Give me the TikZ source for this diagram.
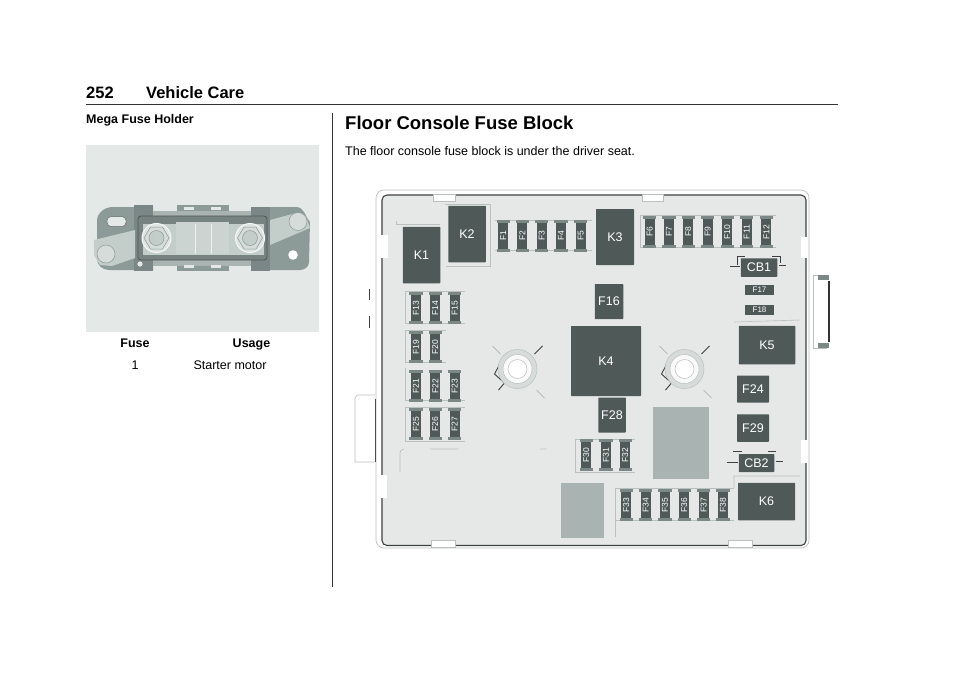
\documentclass[tikz,border=0pt]{standalone}
\usepackage{fontspec}
\setmainfont{Liberation Sans}
\definecolor{panelgray}{HTML}{E4E8E7}
\definecolor{blockgray}{HTML}{E5E8E7}
\definecolor{darkbox}{HTML}{4E5958}
\definecolor{capgray}{HTML}{7C8886}
\definecolor{platesgray}{HTML}{8C9A98}
\definecolor{lightlug}{HTML}{C3CDCA}
\definecolor{padgray}{HTML}{A9B3B1}
\definecolor{edgegray}{HTML}{B9C0BE}
\begin{document}
\begin{tikzpicture}[x=1pt,y=-1pt]
  \tikzstyle{head}=[inner sep=0pt,anchor=base west,font=\bfseries\fontsize{16.5}{18}\selectfont]
  \tikzstyle{sub}=[inner sep=0pt,anchor=base west,font=\bfseries\fontsize{12.5}{14}\selectfont]
  \tikzstyle{body}=[inner sep=0pt,anchor=base,font=\fontsize{12.5}{14}\selectfont]
  \tikzstyle{relay}=[rectangle,fill=darkbox,text=white,inner sep=0pt,rounded corners=0.6pt,font=\fontsize{12.5}{14}\selectfont]
  \tikzstyle{fuse}=[rectangle,fill=darkbox,text=white,inner sep=0pt,minimum width=10pt,minimum height=26pt,font=\fontsize{8.5}{9}\selectfont]
  \tikzstyle{flat}=[rectangle,fill=darkbox,text=white,inner sep=0pt,minimum width=29pt,minimum height=10pt,font=\fontsize{8.5}{9}\selectfont]
  \tikzstyle{pad}=[rectangle,fill=padgray,inner sep=0pt]
  \tikzstyle{trace}=[draw=edgegray,line width=0.6pt]
  \tikzstyle{clip tab}=[draw=edgegray,fill=white,line width=0.8pt]
  \useasboundingbox (0,0) rectangle (960,678);
  % page text
  \node[head] (pagenum) at (86,98.5) {252};
  \node[head] (pagetitle) at (146,98.5) {Vehicle Care};
  \coordinate (ruleleft) at (86,104);
  \coordinate (ruleright) at (838,104);
  \draw[line width=0.9pt,black!80] (ruleleft) -- (ruleright);
  \coordinate (coltop) at (332.5,113);
  \coordinate (colbot) at (332.5,587);
  \draw[line width=0.9pt,black!80] (coltop) -- (colbot);
  \node[sub] (megatitle) at (86,123) {Mega Fuse Holder};
  \node[inner sep=0pt,anchor=base west,font=\bfseries\fontsize{18.5}{20}\selectfont] (blocktitle) at (345,129) {Floor Console Fuse Block};
  \node[inner sep=0pt,anchor=base west,font=\fontsize{12.5}{14}\selectfont] (blocktext) at (345,155) {The floor console fuse block is under the driver seat.};
  \node[sub,anchor=base] (fusehead) at (135,347) {Fuse};
  \node[sub,anchor=base] (usagehead) at (251.5,347) {Usage};
  \node[body] (fuseone) at (135,369) {1};
  \node[body] (usageone) at (230,369) {Starter motor};

  % mega fuse holder
  \fill[panelgray] (86,145) rectangle (318.6,332);
  \fill[platesgray] (153,207) -- (113,207) to[out=180,in=90] (97,221) -- (97,259) to[out=270,in=180] (109,270) -- (153,270) -- cycle;
  \fill[platesgray] (251,207) -- (296,207) to[out=0,in=130] (310,222) -- (309,262) to[out=270,in=0] (300,270) -- (251,270) -- cycle;
  \fill[platesgray!88!black] (134,205) rectangle (153,271);
  \fill[platesgray!88!black] (251,207) rectangle (270,271);
  \fill[platesgray] (177,205) rectangle (229,271);
  \fill[platesgray!75!white] (153,211) rectangle (251,266);
  \fill[panelgray] (184,207) rectangle (194,210);
  \fill[panelgray] (211,207) rectangle (221,210);
  \fill[panelgray] (184,265) rectangle (194,268);
  \fill[panelgray] (211,265) rectangle (221,268);
  \filldraw[fill=panelgray,draw=platesgray!70!black,line width=0.5pt,rounded corners=4pt] (107,216.5) rectangle (126,226.5);
  \fill[lightlug] (94,240) -- (135,230) -- (135,258) -- (112,266) -- (100,265) -- (94,255) -- cycle;
  \fill[lightlug] (270,220) -- (296,213) -- (306,216) -- (310,228) -- (270,245) -- cycle;
  \filldraw[fill=platesgray!85!black,draw=platesgray!55!black,line width=0.8pt,rounded corners=3pt] (138,216) rectangle (267,260);
  \fill[lightlug] (143,224) rectangle (264,255);
  \fill[lightlug!85!white] (176,222) rectangle (229,254);
  \draw[white!70!lightlug,line width=0.4pt] (195,224) -- (195,254) (211,224) -- (211,254);
  \filldraw[fill=lightlug!70!white,draw=platesgray,line width=0.5pt] (106,254) circle (9);
  \filldraw[fill=lightlug!70!white,draw=platesgray,line width=0.5pt] (298,221.5) circle (9);
  \foreach \nx in {156.5,250} {
    \filldraw[fill=lightlug!55!white,draw=white!85!lightlug,line width=1pt] (\nx,238) circle (14.5);
    \filldraw[fill=lightlug!70!white,draw=platesgray,line width=0.5pt] (\nx+12.5,238) -- (\nx+6,249) -- (\nx-6,249) -- (\nx-12.5,238) -- (\nx-6,227) -- (\nx+6,227) -- cycle;
    \filldraw[fill=lightlug,draw=platesgray,line width=0.5pt] (\nx,238) circle (7.5);
  }
  \fill[panelgray] (140,264) circle (2.6);
  \fill[white] (293,255) circle (4.8);

  % fuse block housing
  \filldraw[fill=white,draw=edgegray,line width=0.7pt,rounded corners=8pt] (376,190) rectangle (809,548);
  \filldraw[fill=blockgray,draw=black!75,line width=1.1pt,rounded corners=5pt] (382,195) rectangle (806,545.5);
  \draw[clip tab] (433,194) rectangle (455,201.5);
  \draw[clip tab] (642,194) rectangle (663,201);
  \draw[clip tab] (431,540) rectangle (455,547);
  \draw[clip tab] (728,540) rectangle (752,547);
  \fill[white] (380,235) rectangle (388,258);
  \fill[white] (380,475) rectangle (387,498);
  \fill[white] (801,237) rectangle (808,258);
  \fill[white] (801,440) rectangle (808,463);
  % outer clips
  \draw[trace,fill=white] (375,395) -- (357,395) -- (355,398) -- (355,462) -- (375,462);
  \draw[black!70,line width=0.9pt] (375,399) -- (375,462);
  \draw[black!75,line width=1.2pt] (369.5,289) -- (369.5,300) (369.5,316) -- (369.5,328);
  \draw[trace] (813,275) -- (827,275) (813,348) -- (827,348) (813,275) -- (813,348);
  \draw[black!80,line width=2pt] (829,281) -- (829,342);
  \fill[capgray] (818,275) rectangle (829,280);
  \fill[capgray] (818,343) rectangle (829,348);

  % traces round the fuse groups
  \draw[trace] (495,220) -- (592,220) (495,250) -- (592,250);
  \draw[trace] (640,215) -- (776,215) (640,247) -- (776,247) (640,215) -- (640,247);
  \draw[trace] (405,291) -- (465,291) (405,291) -- (405,323) (405,323) -- (465,323);
  \draw[trace] (405,330) -- (446,330) (405,330) -- (405,362) (405,362) -- (446,362);
  \draw[trace] (405,407) -- (465,407) (405,407) -- (405,441) (405,441) -- (465,441);
  \draw[trace] (405,400) -- (465,400) (405,368) -- (405,400);
  \draw[trace] (575,439) -- (635,439) (575,439) -- (575,472) (575,472) -- (635,472);
  \draw[trace] (615,488) -- (734,488) (615,488) -- (615,537) (615,520) -- (734,520);
  \draw[trace] (734,488) -- (734,476) -- (800,476) (734,322) -- (800,320);
  \draw[trace,rounded corners=3pt] (400,472) -- (400,450) -- (404,449) (430,449) -- (458,449) (540,449) -- (546,449);
  \draw[trace] (396,221) -- (396,224) -- (440,224) (445,204) -- (490,204) -- (490,266) -- (446,266);
  % nuts
  \foreach \nx/\ny/\nn in {517.5/369/L,684.5/369/R} {
    \coordinate (nut\nn) at (\nx,\ny);
    \draw[black!75,line width=0.9pt] (\nx-13,\ny-14) -- (\nx-23,\ny+5) -- (\nx-13,\ny+14) -- (\nx-19,\ny+21);
    \draw[black!75,line width=0.9pt] (\nx+17,\ny-15) -- (\nx+25,\ny-23);
    \draw[black!35,line width=0.6pt] (\nx-25,\ny-23) -- (\nx-17,\ny-15) (\nx+19,\ny+21) -- (\nx+27,\ny+29);
    \filldraw[fill=panelgray!70!edgegray,draw=edgegray,line width=0.5pt] (nut\nn) circle (19.5);
    \filldraw[fill=white!90!edgegray,draw=edgegray,line width=0.5pt] (nut\nn) circle (14.5);
    \filldraw[fill=white,draw=edgegray,line width=0.5pt] (nut\nn) circle (9.5);
  }
  % grey pads
  \node[pad,minimum width=55.5pt,minimum height=72.5pt] (padtop) at (681,443) {};
  \node[pad,minimum width=43.5pt,minimum height=55pt] (padlow) at (582.5,510) {};

  % relays
  \node[relay,minimum width=37.5pt,minimum height=56.5pt] (K1) at (421.5,255) {K1};
  \node[relay,minimum width=37.5pt,minimum height=56.5pt] (K2) at (467,234) {K2};
  \node[relay,minimum width=38pt,minimum height=56pt] (K3) at (615,237) {K3};
  \node[relay,minimum width=70pt,minimum height=70pt] (K4) at (606,361) {K4};
  \node[relay,minimum width=56.5pt,minimum height=38.5pt] (K5) at (767,345) {K5};
  \node[relay,minimum width=57pt,minimum height=37.5pt] (K6) at (766.5,501.5) {K6};
  % large fuses
  \node[relay,minimum width=28.5pt,minimum height=35pt] (F16) at (609,301.5) {F16};
  \node[relay,minimum width=32pt,minimum height=27pt] (F24) at (753,389) {F24};
  \node[relay,minimum width=27.5pt,minimum height=35pt] (F28) at (612,415) {F28};
  \node[relay,minimum width=32pt,minimum height=27.5pt] (F29) at (753,428) {F29};
  \node[relay,minimum width=36.5pt,minimum height=18.5pt] (CB1) at (759,267.5) {CB1};
  \node[relay,minimum width=35.5pt,minimum height=18pt] (CB2) at (756.5,463) {CB2};
  \node[flat,font=\fontsize{8}{9}\selectfont] (F17) at (759.5,290) {F17};
  \node[flat,font=\fontsize{8}{9}\selectfont] (F18) at (759.5,310) {F18};
  % small fuses
  \node[fuse] (F1) at (503.3,236) {\rotatebox{90}{F1}};
  \node[fuse] (F2) at (522.3,236) {\rotatebox{90}{F2}};
  \node[fuse] (F3) at (541.7,236) {\rotatebox{90}{F3}};
  \node[fuse] (F4) at (561,236) {\rotatebox{90}{F4}};
  \node[fuse] (F5) at (580.7,236) {\rotatebox{90}{F5}};
  \node[fuse] (F6) at (649.7,232) {\rotatebox{90}{F6}};
  \node[fuse] (F7) at (669,232) {\rotatebox{90}{F7}};
  \node[fuse] (F8) at (688.3,232) {\rotatebox{90}{F8}};
  \node[fuse] (F9) at (707.7,232) {\rotatebox{90}{F9}};
  \node[fuse] (F10) at (727.3,232) {\rotatebox{90}{F10}};
  \node[fuse] (F11) at (746.7,232) {\rotatebox{90}{F11}};
  \node[fuse] (F12) at (766.3,232) {\rotatebox{90}{F12}};
  \node[fuse] (F13) at (416,308) {\rotatebox{90}{F13}};
  \node[fuse] (F14) at (435.3,308) {\rotatebox{90}{F14}};
  \node[fuse] (F15) at (454.7,308) {\rotatebox{90}{F15}};
  \node[fuse] (F19) at (416,347) {\rotatebox{90}{F19}};
  \node[fuse] (F20) at (435.3,347) {\rotatebox{90}{F20}};
  \node[fuse] (F21) at (416,386) {\rotatebox{90}{F21}};
  \node[fuse] (F22) at (435.3,386) {\rotatebox{90}{F22}};
  \node[fuse] (F23) at (454.7,386) {\rotatebox{90}{F23}};
  \node[fuse] (F25) at (416,424) {\rotatebox{90}{F25}};
  \node[fuse] (F26) at (435.3,424) {\rotatebox{90}{F26}};
  \node[fuse] (F27) at (454.7,424) {\rotatebox{90}{F27}};
  \node[fuse] (F30) at (586.3,455) {\rotatebox{90}{F30}};
  \node[fuse] (F31) at (606,455) {\rotatebox{90}{F31}};
  \node[fuse] (F32) at (625.3,455) {\rotatebox{90}{F32}};
  \node[fuse] (F33) at (626.3,505) {\rotatebox{90}{F33}};
  \node[fuse] (F34) at (645.7,505) {\rotatebox{90}{F34}};
  \node[fuse] (F35) at (665,505) {\rotatebox{90}{F35}};
  \node[fuse] (F36) at (684.3,505) {\rotatebox{90}{F36}};
  \node[fuse] (F37) at (703.7,505) {\rotatebox{90}{F37}};
  \node[fuse] (F38) at (723,505) {\rotatebox{90}{F38}};
  % fuse end caps
  \foreach \fz in {F1,F2,F3,F4,F5,F6,F7,F8,F9,F10,F11,F12,F13,F14,F15,F19,F20,F21,F22,F23,F25,F26,F27,F30,F31,F32,F33,F34,F35,F36,F37,F38} {
    \fill[capgray] ([xshift=-1.5pt]\fz.north west) rectangle ([xshift=1.5pt,yshift=2.5pt]\fz.north east);
    \fill[capgray] ([xshift=-1.5pt]\fz.south west) rectangle ([xshift=1.5pt,yshift=-2.5pt]\fz.south east);
  }
  % circuit breaker brackets
  \draw[black!75,line width=1pt] (737,265) -- (737,256) -- (745,256) (772,256) -- (780,256) -- (780,263);
  \draw[black!75,line width=1pt] (733,451) -- (742,451) (768,451) -- (776,451);
  \draw[black!75,line width=1pt] (730,266) -- (740,266) (779,265) -- (786,265) (727,462) -- (738,462) (776,461) -- (783,461);
\end{tikzpicture}
\end{document}
